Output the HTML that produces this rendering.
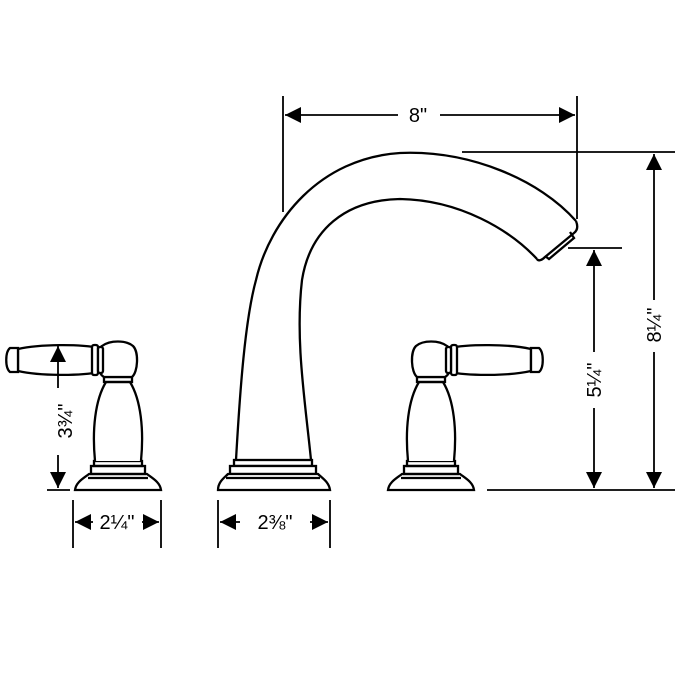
<!DOCTYPE html>
<html><head><style>html,body{margin:0;padding:0;background:#fff}svg{display:block}
text{font-family:"Liberation Sans",sans-serif;font-size:20px;fill:#000}</style></head>
<body>
<svg width="675" height="675" viewBox="0 0 675 675" xmlns="http://www.w3.org/2000/svg">
<defs>
<g id="handle" fill="none" stroke="#000" stroke-width="2.3">
<path d="M75,490 L161,490 C160,482 152,478 147,474 L89,474 C84,478 76,482 75,490 Z" fill="#fff"/>
<line x1="88" y1="478" x2="148" y2="478"/>
<rect x="91" y="466" width="54" height="8"/>
<rect x="94" y="461" width="48" height="5"/>
<path d="M95,461 C92,430 95,400 106,382 L130,382 C141,400 144,430 141,461" fill="#fff"/>
<rect x="104" y="377" width="28" height="5"/>
<path d="M104,377 C95,372 96,350 102,346 C110,340 126,340 133,346 C139,352 138,372 132,377 Z" fill="#fff"/>
<path d="M100,348 C80,344 40,344 18,349 L18,371 C40,376 80,376 100,372 Z" fill="#fff"/>
<rect x="92" y="345" width="6" height="30" rx="2" fill="#fff"/>
<rect x="98" y="347" width="5" height="26" rx="2" fill="#fff"/>
<path d="M18,348 L10,348 C5,352 5,368 10,372 L18,372 Z" fill="#fff"/>
</g>
<marker id="a" viewBox="0 0 10 10" refX="10" refY="5" markerWidth="17" markerHeight="16" markerUnits="userSpaceOnUse" orient="auto"><path d="M0,0L10,5L0,10Z"/></marker>
</defs>
<use href="#handle"/>
<use href="#handle" transform="translate(549,0) scale(-1,1)"/>
<g fill="none" stroke="#000" stroke-width="2.3">
<path d="M236,460 C240,390 245,320 256,280 C270,220 320,158 400,153 C470,150 540,180 576,221"/>
<path d="M311,460 C305,400 295,340 302,280 C310,230 345,200 400,199 C460,200 510,230 537,259"/>
<path d="M576,221 C578,226 578,230 574,233 L545,257 C541,261 538,261 537,259"/>
<path d="M570,232 L574,238 L549,259 L545,256"/>
<rect x="234" y="460" width="78" height="6" fill="#fff"/>
<rect x="230" y="466" width="86" height="8" fill="#fff"/>
<path d="M218,490 L330,490 C329,482 322,478 318,474 L228,474 C224,478 218,482 218,490 Z" fill="#fff"/>
<line x1="226" y1="478" x2="320" y2="478"/>
<g stroke-width="1.8">
<line x1="283" y1="96" x2="283" y2="212"/>
<line x1="577" y1="96" x2="577" y2="219"/>
<line x1="398" y1="115" x2="285" y2="115" marker-end="url(#a)"/>
<line x1="440" y1="115" x2="575" y2="115" marker-end="url(#a)"/>
<line x1="462" y1="152" x2="675" y2="152"/>
<line x1="568" y1="248" x2="622" y2="248"/>
<line x1="487" y1="490" x2="675" y2="490"/>
<line x1="654" y1="300" x2="654" y2="154" marker-end="url(#a)"/>
<line x1="654" y1="352" x2="654" y2="488" marker-end="url(#a)"/>
<line x1="594" y1="352" x2="594" y2="250" marker-end="url(#a)"/>
<line x1="594" y1="408" x2="594" y2="488" marker-end="url(#a)"/>
<line x1="47" y1="490" x2="70" y2="490"/>
<line x1="58" y1="388" x2="58" y2="346" marker-end="url(#a)"/>
<line x1="58" y1="455" x2="58" y2="488" marker-end="url(#a)"/>
<line x1="73" y1="500" x2="73" y2="548"/>
<line x1="161" y1="500" x2="161" y2="548"/>
<line x1="93" y1="522" x2="75" y2="522" marker-end="url(#a)"/>
<line x1="142" y1="522" x2="159" y2="522" marker-end="url(#a)"/>
<line x1="218" y1="500" x2="218" y2="548"/>
<line x1="330" y1="500" x2="330" y2="548"/>
<line x1="240" y1="522" x2="220" y2="522" marker-end="url(#a)"/>
<line x1="310" y1="522" x2="328" y2="522" marker-end="url(#a)"/>
</g>
</g>
<text x="418" y="122" text-anchor="middle">8"</text>
<text x="117" y="529" text-anchor="middle">2¼"</text>
<text x="275" y="529" text-anchor="middle">2⅜"</text>
<text transform="translate(72,421) rotate(-90)" text-anchor="middle">3¾"</text>
<text transform="translate(601,380) rotate(-90)" text-anchor="middle">5¼"</text>
<text transform="translate(661,325) rotate(-90)" text-anchor="middle">8¼"</text>
</svg>
</body></html>
